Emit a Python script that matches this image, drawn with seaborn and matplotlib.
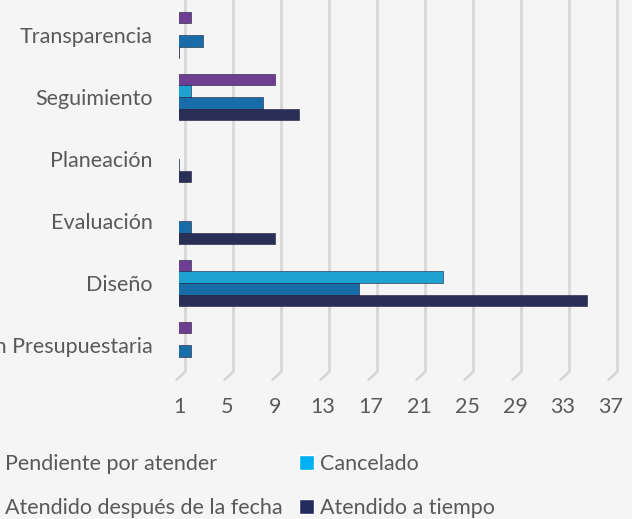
import matplotlib
matplotlib.use("Agg")
import matplotlib.pyplot as plt
import seaborn as sns
import pandas as pd
from matplotlib.patches import Patch

categories = ["Transparencia", "Seguimiento", "Planeación", "Evaluación", "Diseño", "Programación Presupuestaria"]
series = ["Pendiente por atender", "Cancelado", "Atendido después de la fecha", "Atendido a tiempo"]
pendiente = [2, 9, 0, 0, 2, 2]
cancelado = [0, 2, 0, 0, 23, 0]
despues = [3, 8, 1, 2, 16, 2]
a_tiempo = [1, 11, 2, 9, 35, 0]
ticks = [1, 5, 9, 13, 17, 21, 25, 29, 33, 37]
colors = ["#7030A0", "#00B0F0", "#0070C0", "#222A5E"]

rows = []
for s, vals in zip(series, [pendiente, cancelado, despues, a_tiempo]):
    for c, v in zip(categories, vals):
        rows.append({"cat": c, "serie": s, "val": v})
df = pd.DataFrame(rows)

sns.set_theme(style="white")
plt.rcParams["font.family"] = ["Lato", "DejaVu Sans"]
bg = "#F5F5F5"
fig = plt.figure(figsize=(6.32, 5.19), dpi=100, facecolor=bg)
W, H = 632, 519
ax = fig.add_axes([179 / W, (H - 372) / H, 1 - 179 / W, 372 / H])
ax.set_facecolor(bg)

# back-wall gridlines
for t in ticks:
    ax.axvline(t + 0.5, color="#D9D9D9", lw=2.2, zorder=0)
    ax.plot([t + 0.5, t - 0.2], [5.435, 5.56], color="#D9D9D9", lw=2.0, clip_on=False, zorder=0)

sns.barplot(data=df, y="cat", x="val", hue="serie", order=categories, hue_order=series,
            palette=colors, orient="h", width=0.75, ax=ax, legend=False, zorder=3,
            edgecolor="#1b1b3a", linewidth=0.4)

ax.set_xlim(1, 38.75)
ax.set_ylim(5.435, -0.565)
ax.set_xticks(ticks)
ax.set_xticklabels([str(t) for t in ticks])
ax.set_xlabel("")
ax.set_ylabel("")
for sp in ax.spines.values():
    sp.set_visible(False)
ax.tick_params(axis="both", length=0, labelsize=15.5, labelcolor="#595959")
ax.tick_params(axis="y", pad=19)
ax.tick_params(axis="x", pad=18)
ax.grid(False)

handles = [Patch(facecolor=colors[0], label=series[0]),
           Patch(facecolor=colors[2], label=series[2]),
           Patch(facecolor=colors[1], label=series[1]),
           Patch(facecolor=colors[3], label=series[3])]
leg = fig.legend(handles=handles, ncol=2, frameon=False, loc="upper left",
                 bbox_to_anchor=(-36 / W, 1 - 435 / H), fontsize=15.5,
                 handlelength=0.7, handleheight=0.7, handletextpad=0.3,
                 columnspacing=0.75, labelspacing=1.1, labelcolor="#595959")

fig.savefig("out.png", dpi=100, facecolor=bg)
